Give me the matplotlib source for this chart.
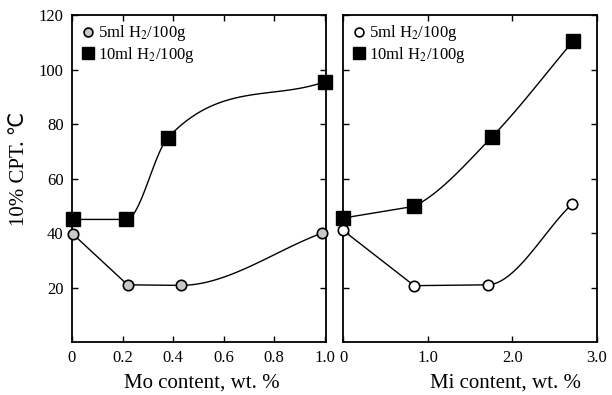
"""
plot.py
CPT vs Mo / Mi content, two hydrogen levels
"""

import numpy as np
import matplotlib
matplotlib.use("Agg")

import matplotlib.pyplot as plt

# ── DATA ──────────────────────────────────────────────
MO_X_5 = [0.005, 0.22, 0.43, 0.99]
MO_Y_5 = [39.5, 21.0, 20.8, 40.0]
MO_X_10 = [0.005, 0.215, 0.38, 1.0]
MO_Y_10 = [45.0, 45.0, 75.0, 95.5]

MI_X_5 = [0.0, 0.84, 1.71, 2.70]
MI_Y_5 = [41.0, 20.7, 21.0, 50.5]
MI_X_10 = [0.0, 0.84, 1.76, 2.72]
MI_Y_10 = [45.5, 49.8, 75.3, 110.5]

LABEL_5 = "5ml H$_2$/100g"
LABEL_10 = "10ml H$_2$/100g"

MO_TICKS = [0, 0.2, 0.4, 0.6, 0.8, 1.0]
MO_TICKLABELS = ["0", "0.2", "0.4", "0.6", "0.8", "1.0"]
MI_TICKS = [0, 1.0, 2.0, 3.0]
MI_TICKLABELS = ["0", "1.0", "2.0", "3.0"]
Y_TICKS = [20, 40, 60, 80, 100, 120]

plt.rcParams["font.family"] = ["Liberation Serif", "DejaVu Sans"]
plt.rcParams["mathtext.fontset"] = "stix"


# ── CURVE: first n_straight segments straight, rest hermite ──
def curve(x, y, n_straight, n=60):
    x = np.asarray(x, float)
    y = np.asarray(y, float)
    h = np.diff(x)
    d = np.diff(y) / h
    m = np.zeros_like(y)
    for k in range(1, len(x) - 1):
        a, b = d[k - 1], d[k]
        if a * b > 0:
            mm = 0.5 * (a + b)
            lim = 3 * min(abs(a), abs(b))
            m[k] = np.sign(mm) * min(abs(mm), lim)
    m[0] = d[0]
    m[-1] = d[-1]
    xs_all, ys_all = [], []
    for k in range(len(h)):
        if k < n_straight:
            xs_all += [x[k], x[k + 1]]
            ys_all += [y[k], y[k + 1]]
            continue
        t = np.linspace(0, 1, n)
        h00 = 2 * t**3 - 3 * t**2 + 1
        h10 = t**3 - 2 * t**2 + t
        h01 = -2 * t**3 + 3 * t**2
        h11 = t**3 - t**2
        ys = h00 * y[k] + h10 * h[k] * m[k] + h01 * y[k + 1] + h11 * h[k] * m[k + 1]
        xs_all += list(x[k] + t * h[k])
        ys_all += list(ys)
    return xs_all, ys_all


def draw_panel(ax, x5, y5, x10, y10, circ_face):
    xs, ys = curve(x10, y10, 1)
    ax.plot(xs, ys, color="black", lw=1.0, clip_on=False)
    xs, ys = curve(x5, y5, 2)
    ax.plot(xs, ys, color="black", lw=1.0, clip_on=False)
    ax.plot(x5, y5, "o", ms=7.5, mfc=circ_face, mec="black", mew=1.2,
            ls="none", label=LABEL_5, clip_on=False, zorder=3)
    ax.plot(x10, y10, "s", ms=10, mfc="black", mec="black",
            ls="none", label=LABEL_10, clip_on=False, zorder=3)

    h, l = ax.get_legend_handles_labels()
    ax.legend(h, l, loc="upper left", frameon=False, fontsize=12,
              handletextpad=0.15, borderaxespad=0.2, borderpad=0.3,
              labelspacing=0.1, handlelength=0.9, markerscale=0.85)

    ax.set_ylim(0, 120)
    ax.set_yticks(Y_TICKS)
    for s in ax.spines.values():
        s.set_linewidth(1.3)
    ax.tick_params(direction="in", length=4, width=1, labelsize=12,
                   top=True, right=True, pad=6)


fig = plt.figure(figsize=(6.12, 3.95), dpi=100)
ax1 = fig.add_axes([0.1176, 0.134, 0.415, 0.828])
ax2 = fig.add_axes([0.5605, 0.134, 0.415, 0.828])

draw_panel(ax1, MO_X_5, MO_Y_5, MO_X_10, MO_Y_10, "#c8c8c8")
ax1.set_xlim(0, 1.005)
ax1.set_xticks(MO_TICKS)
ax1.set_xticklabels(MO_TICKLABELS)
ax1.set_ylabel("10% CPT. ℃", fontsize=15)
ax1.yaxis.set_label_coords(-0.17, 0.53)
ax1.set_xlabel("Mo content, wt. %", fontsize=15)

draw_panel(ax2, MI_X_5, MI_Y_5, MI_X_10, MI_Y_10, "white")
ax2.set_xlim(0, 3.0)
ax2.set_xticks(MI_TICKS)
ax2.set_xticklabels(MI_TICKLABELS)
ax2.tick_params(axis="y", labelleft=False)
ax2.set_xlabel("Mi content, wt. %", fontsize=15)
ax2.xaxis.set_label_coords(0.64, -0.095)
ax1.xaxis.set_label_coords(0.51, -0.095)

fig.savefig("out.png", dpi=100)
plt.close(fig)
